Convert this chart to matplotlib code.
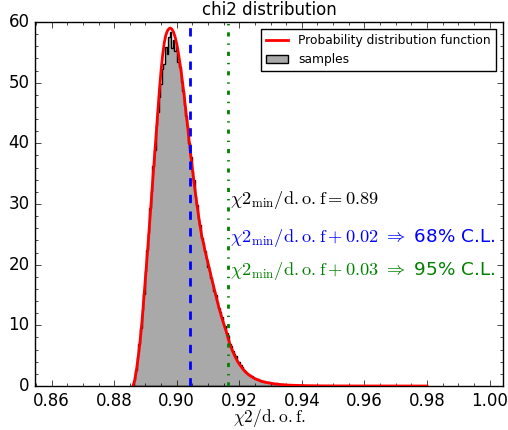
import numpy as np
import matplotlib
matplotlib.use("Agg")
import matplotlib.pyplot as plt
from matplotlib.ticker import MultipleLocator
from matplotlib.patches import Patch
from matplotlib.lines import Line2D

# histogram of the chi2/dof samples (bin width 0.0005, first bin centred at 0.8860)
hist_first_center = 0.8860
hist_width = 0.0005
hist_counts = [
    0.2, 1.0, 2.6, 4.8, 7.0, 9.6, 12.5, 15.2, 19.0, 22.4,
    25.3, 29.4, 32.1, 36.2, 38.9, 43.0, 45.1, 47.6, 49.8, 52.3,
    53.1, 55.9, 54.8, 57.6, 58.3, 55.7, 57.0, 55.2, 56.0, 53.4,
    52.6, 50.1, 48.7, 46.4, 44.5, 42.9, 40.0, 37.8, 35.4, 33.9,
    31.3, 29.9, 27.6, 26.5, 24.4, 23.5, 22.3, 21.0, 19.6, 18.9,
    17.8, 17.0, 15.7, 15.0, 13.8, 12.9, 12.2, 11.3, 10.2, 9.9,
    8.8, 8.3, 7.0, 6.6, 5.8, 5.3, 4.9, 4.2, 3.9, 3.4,
    3.1, 2.7, 2.5, 2.2, 2.0, 1.8, 1.6, 1.5, 1.3, 1.2,
    1.1, 1.0, 0.9, 0.8, 0.75, 0.7, 0.6, 0.62, 0.5, 0.5,
    0.45, 0.4, 0.42, 0.35, 0.3, 0.32, 0.25, 0.25, 0.2, 0.22,
    0.18, 0.15, 0.16, 0.12, 0.12, 0.1, 0.1, 0.08, 0.09, 0.07,
    0.06, 0.06, 0.05, 0.05, 0.04, 0.05, 0.03, 0.03, 0.03, 0.02,
    0.02, 0.02, 0.01, 0.02, 0.01, 0.01, 0.01, 0.01, 0.0, 0.01,
]

# probability distribution function
pdf_x = [0.8860, 0.8865, 0.8870, 0.8875, 0.8880, 0.8885, 0.8890, 0.8895, 0.8900,
         0.8905, 0.8910, 0.8915, 0.8920, 0.8925, 0.8930, 0.8935, 0.8940, 0.8945,
         0.8950, 0.8955, 0.8960, 0.8965, 0.8970, 0.8975, 0.8980, 0.8985, 0.8990,
         0.8995, 0.9000, 0.9005, 0.9010, 0.9015, 0.9020, 0.9025, 0.9030, 0.9035,
         0.9040, 0.9045, 0.9050, 0.9055, 0.9060, 0.9065, 0.9070, 0.9075, 0.9080,
         0.9085, 0.9090, 0.9095, 0.9100, 0.9105, 0.9110, 0.9115, 0.9120, 0.9125,
         0.9130, 0.9135, 0.9140, 0.9145, 0.9150, 0.9155, 0.9160, 0.9165, 0.9170,
         0.9175, 0.9180, 0.9185, 0.9190, 0.9195, 0.9200, 0.9210, 0.9220, 0.9230,
         0.9240, 0.9250, 0.9260, 0.9270, 0.9280, 0.9300, 0.9320, 0.9340, 0.9360,
         0.9400, 0.9450, 0.9500, 0.9600, 0.9700, 0.9800]
pdf_y = [0.0, 0.8, 2.2, 4.0, 6.0, 8.5, 11.2, 14.5, 17.8,
         21.0, 24.5, 28.0, 31.5, 35.0, 38.5, 42.0, 45.5, 49.0,
         52.0, 54.5, 56.5, 57.8, 58.5, 58.9, 59.0, 58.8, 58.3,
         57.5, 56.4, 55.0, 53.3, 51.5, 49.5, 47.3, 45.0, 42.7,
         40.3, 38.0, 35.8, 33.7, 31.7, 29.8, 28.0, 26.3, 24.7,
         23.6, 22.4, 21.3, 20.3, 19.2, 18.1, 17.0, 16.0, 14.9,
         13.9, 12.9, 12.0, 11.1, 10.3, 9.5, 8.7, 7.7, 6.9,
         6.2, 5.6, 5.0, 4.5, 4.0, 3.6, 2.9, 2.3, 1.85,
         1.5, 1.2, 1.0, 0.8, 0.65, 0.45, 0.3, 0.2, 0.14,
         0.07, 0.03, 0.015, 0.005, 0.0, 0.0]

chi2_68 = 0.9043
chi2_95 = 0.9163

plt.style.use("classic")
plt.rcParams.update({
    "figure.facecolor": "white",
    "savefig.facecolor": "white",
    "mathtext.fontset": "cm",
    "font.size": 12,
})

fig = plt.figure(figsize=(5.08, 4.30), dpi=100)
ax = fig.add_axes([35 / 508, 1 - 386 / 430, 468 / 508, 364 / 430])

edges = hist_first_center - hist_width / 2 + hist_width * np.arange(len(hist_counts) + 1)
centers = edges[:-1] + hist_width / 2
ax.hist(centers, bins=edges, weights=hist_counts, histtype="stepfilled",
        facecolor="#a9a9a9", edgecolor="black", linewidth=1.0, zorder=2)
ax.plot(pdf_x, pdf_y, color="red", linewidth=2.0, zorder=3)

ax.axvline(chi2_68, color="blue", linestyle="--", linewidth=2.0, zorder=4)
ax.axvline(chi2_95, color="green", linestyle="-.", linewidth=2.0, zorder=4)

ax.text(0.917, 30.6, r"$\chi2_{\rm min}/\rm d.o.f = 0.89$", fontsize=13.2,
        color="black", va="center", ha="left")
ax.text(0.917, 24.4, r"$\chi2_{\rm min}/\rm d.o.f + 0.02\ \Rightarrow$ 68% C.L.",
        fontsize=13.2, color="blue", va="center", ha="left")
ax.text(0.917, 19.0, r"$\chi2_{\rm min}/\rm d.o.f + 0.03\ \Rightarrow$ 95% C.L.",
        fontsize=13.2, color="green", va="center", ha="left")

ax.set_xlim(0.8547, 1.0043)
ax.set_ylim(0, 60)
ax.xaxis.set_major_locator(MultipleLocator(0.02))
ax.xaxis.set_minor_locator(MultipleLocator(0.005))
ax.yaxis.set_major_locator(MultipleLocator(10))
ax.yaxis.set_minor_locator(MultipleLocator(2))
ax.xaxis.set_major_formatter(matplotlib.ticker.FormatStrFormatter("%.2f"))
ax.tick_params(labelsize=12)

ax.set_xlabel(r"$\chi2/\rm d.o.f.$", fontsize=12.5, labelpad=-1.5)
ax.set_title("chi2 distribution", fontsize=12)

handles = [Line2D([], [], color="red", linewidth=2.0),
           Patch(facecolor="#a9a9a9", edgecolor="black")]
ax.legend(handles, ["Probability distribution function", "samples"],
          loc="upper right", fontsize=8.8, frameon=True, fancybox=False,
          numpoints=1, handlelength=1.8, borderaxespad=0.6)

fig.savefig("out.png", dpi=100)
